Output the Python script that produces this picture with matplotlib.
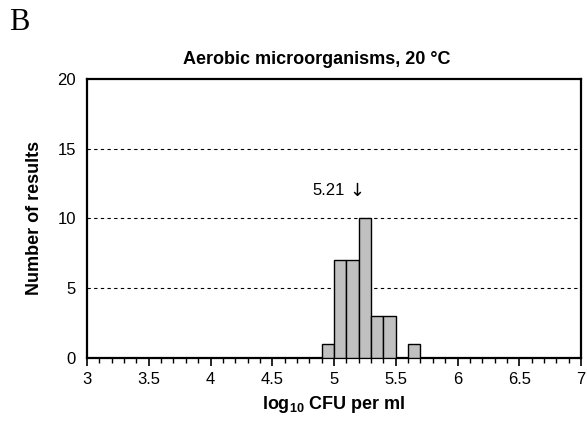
import matplotlib
matplotlib.use("Agg")
import matplotlib.pyplot as plt
from matplotlib.ticker import MultipleLocator

plt.rcParams['font.family'] = ['Liberation Sans', 'DejaVu Sans']
plt.rcParams['mathtext.fontset'] = 'custom'
plt.rcParams['mathtext.bf'] = 'Liberation Sans:bold'
plt.rcParams['mathtext.rm'] = 'Liberation Sans'

# histogram bins (left edge, log10 CFU per ml) and counts
bin_left = [4.9, 5.0, 5.1, 5.2, 5.3, 5.4, 5.6]
counts = [1, 7, 7, 10, 3, 3, 1]
bin_width = 0.1
median_val = 5.21

fig = plt.figure(figsize=(5.87, 4.21), dpi=100)
ax = fig.add_axes([87/587, 1-357.7/421, (581-87)/587, (357.7-79)/421])

ax.bar(bin_left, counts, width=bin_width, align='edge',
       color='#c0c0c0', edgecolor='black', linewidth=1.0, zorder=3)

ax.set_xlim(3, 7)
ax.set_ylim(0, 20)
ax.xaxis.set_minor_locator(MultipleLocator(0.1))
ax.set_xticks([3, 3.5, 4, 4.5, 5, 5.5, 6, 6.5, 7])
ax.set_xticklabels(['3', '3.5', '4', '4.5', '5', '5.5', '6', '6.5', '7'])
ax.set_yticks([0, 5, 10, 15, 20])
ax.tick_params(axis='x', which='major', direction='out', length=6, width=1.2,
               labelsize=12, pad=4)
ax.tick_params(axis='x', which='minor', direction='out', length=3.5, width=1.0)
ax.tick_params(axis='y', length=0, labelsize=12, pad=8)

for v in [5, 10, 15]:
    ax.axhline(v, color='black', linestyle=(0, (3, 3)), linewidth=0.8, zorder=1)

for s in ax.spines.values():
    s.set_linewidth(1.6)

ax.set_title('Aerobic microorganisms, 20 °C', fontsize=13, fontweight='bold',
             pad=11, x=0.466)
ax.set_ylabel('Number of results', fontsize=13, fontweight='bold', labelpad=10)
ax.set_xlabel(r'$\mathbf{log_{10}}$ CFU per ml', fontsize=13, fontweight='bold', labelpad=5)

ax.text(median_val - 0.12, 12.0, '%.2f' % median_val, ha='right', va='center', fontsize=12)
ax.text(median_val - 0.025, 12.0, '\u2193', ha='center', va='center',
        fontsize=13, family='DejaVu Sans')

fig.text(19/587, 1-23/421, 'B', fontsize=22, family='Liberation Serif',
         ha='center', va='center')

fig.savefig('out.png', dpi=100)
